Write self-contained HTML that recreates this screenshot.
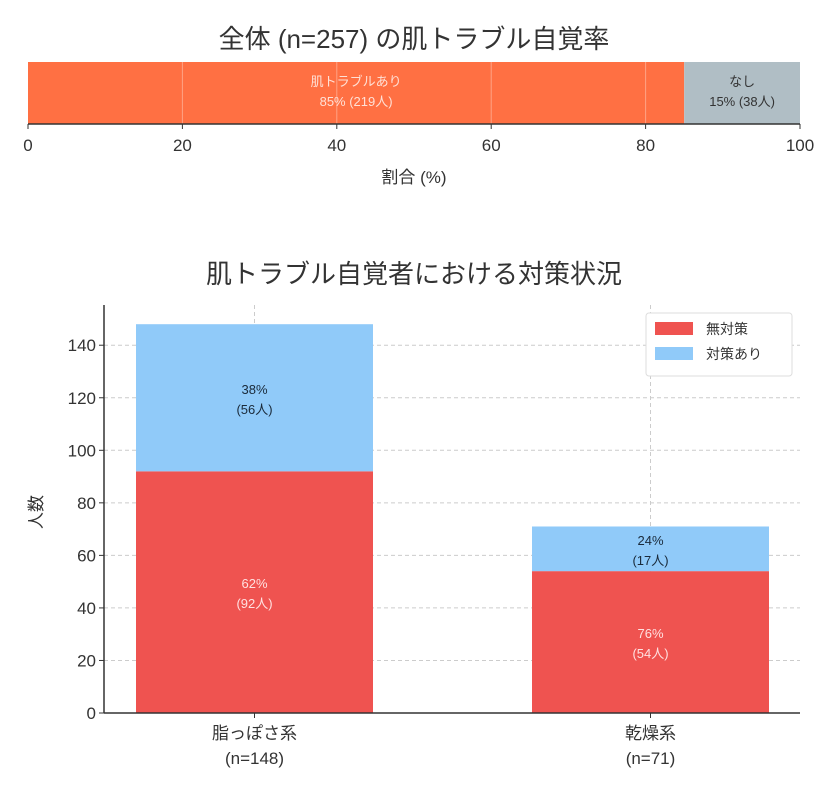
<!DOCTYPE html>
<html><head><meta charset="utf-8"><style>
body{margin:0;background:#fff;}
svg text{font-family:"Liberation Sans","Noto Sans CJK JP",sans-serif;}
</style></head><body>
<svg id="c" width="840" height="791" viewBox="0 0 840 791" xmlns="http://www.w3.org/2000/svg">
<text x="414" y="48" font-size="26" text-anchor="middle" fill="#333">全体 (n=257) の肌トラブル自覚率</text>
<g id="top"></g>
<text x="414" y="283" font-size="26" text-anchor="middle" fill="#333">肌トラブル自覚者における対策状況</text>
<g id="bot"></g>
</svg>
<script>
const topCats=['肌トラブルあり','なし'];
const topPct=[85,15];
const topCounts=[219,38];
const topTicks=[0,20,40,60,80,100];

const botCats=['脂っぽさ系','乾燥系'];
const botN=[148,71];
const noAction=[92,54];
const withAction=[56,17];
const noPct=[62,76];
const withPct=[38,24];
const yTicks=[0,20,40,60,80,100,120,140];

const NS='http://www.w3.org/2000/svg';
function mk(p,t,a,txt){const e=document.createElementNS(NS,t);for(const k in a)e.setAttribute(k,a[k]);if(txt!=null)e.textContent=txt;p.appendChild(e);return e;}

// top chart
const T=document.getElementById('top');
const tx=v=>28+v*(800-28)/100;
const tY0=62,tY1=124;
const topCol=['#FF7043','#B0BEC5'];
const topTxt=['#ffe0d6','#333'];
let acc=0;
topPct.forEach((v,i)=>{
 const r=mk(T,'rect',{x:tx(acc),y:tY0,width:tx(acc+v)-tx(acc),height:tY1-tY0,fill:topCol[i]});
 
 
 const cx=(tx(acc)+tx(acc+v))/2;
 const t1=mk(T,'text',{x:cx,y:86,'font-size':13,'text-anchor':'middle',fill:topTxt[i]},topCats[i]);
 
 
 const t2=mk(T,'text',{x:cx,y:106,'font-size':13,'text-anchor':'middle',fill:topTxt[i]},v+'% ('+topCounts[i]+'人)');
 
 
 acc+=v;
});
topTicks.forEach(v=>{
 if(v>0&&v<100)mk(T,'line',{x1:tx(v),y1:tY0,x2:tx(v),y2:tY1,stroke:'#fff',opacity:0.35,'stroke-width':1});
 mk(T,'line',{x1:tx(v),y1:tY1,x2:tx(v),y2:tY1+5,stroke:'#333'});
 const t=mk(T,'text',{x:tx(v),y:151,'font-size':17,'text-anchor':'middle',fill:'#333'},v);
 
 
});
mk(T,'line',{x1:28,y1:tY1,x2:800,y2:tY1,stroke:'#333','stroke-width':1.5});
const xt=mk(T,'text',{x:414,y:183,'font-size':17,'text-anchor':'middle',fill:'#333'},'割合 (%)');



// bottom chart
const B=document.getElementById('bot');
const L=104,R=800,Y0=713,k=2.627;
const y=v=>Y0-v*k;
const centers=[254.5,650.5],bw=237;
yTicks.forEach(v=>{
 mk(B,'line',{x1:L,y1:y(v),x2:R,y2:y(v),stroke:'#ccc','stroke-dasharray':'4,3','stroke-width':1});
 mk(B,'line',{x1:L-5,y1:y(v),x2:L,y2:y(v),stroke:'#333'});
 const t=mk(B,'text',{x:L-8,y:y(v)+6,'font-size':17,'text-anchor':'end',fill:'#333'},v);
 
 
});
centers.forEach(c=>mk(B,'line',{x1:c,y1:305,x2:c,y2:Y0,stroke:'#ccc','stroke-dasharray':'4,3'}));
botCats.forEach((cat,i)=>{
 const c=centers[i];
 const r1=mk(B,'rect',{x:c-bw/2,y:y(noAction[i]),width:bw,height:y(0)-y(noAction[i]),fill:'#EF5350'});
 
 
 const r2=mk(B,'rect',{x:c-bw/2,y:y(noAction[i]+withAction[i]),width:bw,height:y(noAction[i])-y(noAction[i]+withAction[i]),fill:'#90CAF9'});
 
 
 const m1=y(noAction[i]/2);
 const a=mk(B,'text',{x:c,y:m1-4,'font-size':13,'text-anchor':'middle',fill:'#ffe0e0'},noPct[i]+'%');
 
 
 const a2=mk(B,'text',{x:c,y:m1+16,'font-size':13,'text-anchor':'middle',fill:'#ffe0e0'},'('+noAction[i]+'人)');
 
 
 const m2=y(noAction[i]+withAction[i]/2);
 const b=mk(B,'text',{x:c,y:m2-4,'font-size':13,'text-anchor':'middle',fill:'#1a2a3a'},withPct[i]+'%');
 
 
 const b2=mk(B,'text',{x:c,y:m2+16,'font-size':13,'text-anchor':'middle',fill:'#1a2a3a'},'('+withAction[i]+'人)');
 
 
 mk(B,'line',{x1:c,y1:Y0,x2:c,y2:Y0+5,stroke:'#333'});
 const x1=mk(B,'text',{x:c,y:739,'font-size':17,'text-anchor':'middle',fill:'#333'},cat);
 
 
 const x2=mk(B,'text',{x:c,y:764,'font-size':17,'text-anchor':'middle',fill:'#333'},'(n='+botN[i]+')');
 
 
});
mk(B,'line',{x1:L,y1:305,x2:L,y2:Y0,stroke:'#333','stroke-width':1.5});
mk(B,'line',{x1:L,y1:Y0,x2:R,y2:Y0,stroke:'#333','stroke-width':1.5});
const yt=mk(B,'text',{x:42,y:512,'font-size':17,'text-anchor':'middle',fill:'#333',transform:'rotate(-90 42 512)'},'人数');


// legend
const lg=mk(B,'g',{});


mk(lg,'rect',{x:646,y:313,width:146,height:63,fill:'#fff',stroke:'#ddd',rx:3});
const legItems=[['無対策','#EF5350'],['対策あり','#90CAF9']];
legItems.forEach((it,i)=>{
 const e=mk(lg,'rect',{x:655,y:322+i*25,width:38,height:13,fill:it[1]});
 
 
 const t=mk(lg,'text',{x:706,y:334+i*25,'font-size':14,fill:'#333'},it[0]);
 
 
});
</script>
</body></html>
